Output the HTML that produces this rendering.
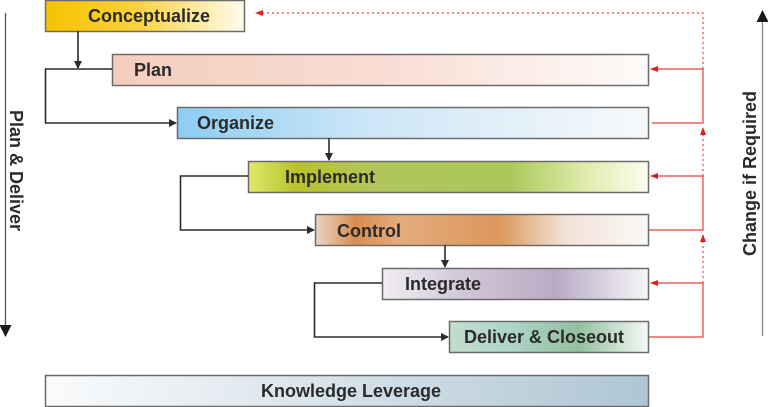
<!DOCTYPE html>
<html><head><meta charset="utf-8"><style>
html,body{margin:0;padding:0;background:#fff;width:768px;height:407px;overflow:hidden}
text{font-family:"Liberation Sans",Arial,sans-serif;font-weight:bold;fill:#2b2b2b}
</style></head><body>
<svg width="768" height="407" viewBox="0 0 768 407" xmlns="http://www.w3.org/2000/svg">
<defs>
<linearGradient id="g1" x1="0" x2="1"><stop offset="0" stop-color="#f5c200"/><stop offset="0.45" stop-color="#fcd23a"/><stop offset="1" stop-color="#fffbf0"/></linearGradient>
<linearGradient id="g2" x1="0" x2="1"><stop offset="0" stop-color="#f5cdbf"/><stop offset="0.5" stop-color="#f8ddd3"/><stop offset="1" stop-color="#fdfbfa"/></linearGradient>
<linearGradient id="g3" x1="0" x2="1"><stop offset="0" stop-color="#8dcdf4"/><stop offset="0.4" stop-color="#cde6f6"/><stop offset="1" stop-color="#f7f9fb"/></linearGradient>
<linearGradient id="g4" x1="0" x2="1"><stop offset="0" stop-color="#dfe96a"/><stop offset="0.12" stop-color="#b8c22a"/><stop offset="0.3" stop-color="#b2c55a"/><stop offset="0.65" stop-color="#a9c85a"/><stop offset="0.85" stop-color="#e2ecaf"/><stop offset="1" stop-color="#fbfdf0"/></linearGradient>
<linearGradient id="g5" x1="0" x2="1"><stop offset="0" stop-color="#ead4c4"/><stop offset="0.12" stop-color="#d98c50"/><stop offset="0.25" stop-color="#e4ac7c"/><stop offset="0.55" stop-color="#dc975c"/><stop offset="0.75" stop-color="#f1e2d8"/><stop offset="1" stop-color="#fbf9f7"/></linearGradient>
<linearGradient id="g6" x1="0" x2="1"><stop offset="0" stop-color="#f0ecf2"/><stop offset="0.3" stop-color="#d2c8d8"/><stop offset="0.65" stop-color="#b8aac4"/><stop offset="1" stop-color="#f7f6f8"/></linearGradient>
<linearGradient id="g7" x1="0" x2="1"><stop offset="0" stop-color="#c4dccf"/><stop offset="0.3" stop-color="#acd6c8"/><stop offset="0.65" stop-color="#94bf9f"/><stop offset="1" stop-color="#f6f9f7"/></linearGradient>
<linearGradient id="g8" x1="0" x2="1"><stop offset="0" stop-color="#fafbfc"/><stop offset="0.4" stop-color="#dde6ed"/><stop offset="1" stop-color="#aec6d4"/></linearGradient>
<marker id="ab" markerWidth="8" markerHeight="8" refX="7" refY="4" orient="auto" markerUnits="userSpaceOnUse"><path d="M0,0 L8,4 L0,8 z" fill="#2b2b2b"/></marker>
<marker id="ar" markerWidth="8" markerHeight="6" refX="7" refY="3" orient="auto" markerUnits="userSpaceOnUse"><path d="M0,0 L8,3 L0,6 z" fill="#e02020"/></marker>
<marker id="ak" markerWidth="12" markerHeight="12" refX="11" refY="6" orient="auto" markerUnits="userSpaceOnUse"><path d="M0,0 L12,6 L0,12 z" fill="#1a1a1a"/></marker>
</defs>
<g stroke="#6b6b6b" stroke-width="1.5">
<rect x="45.5" y="0.5" width="199" height="31" fill="url(#g1)"/>
<rect x="112.5" y="54.5" width="536" height="31" fill="url(#g2)"/>
<rect x="177.5" y="107.5" width="471" height="31" fill="url(#g3)"/>
<rect x="248.5" y="161.5" width="400" height="31" fill="url(#g4)"/>
<rect x="315.5" y="214.5" width="333" height="31" fill="url(#g5)"/>
<rect x="382.5" y="268.5" width="266" height="31" fill="url(#g6)"/>
<rect x="449.5" y="321.5" width="199" height="31" fill="url(#g7)"/>
<rect x="45.5" y="375.5" width="603" height="31" fill="url(#g8)"/>
</g>
<g font-size="18">
<text x="88" y="22">Conceptualize</text>
<text x="134" y="76">Plan</text>
<text x="197" y="129">Organize</text>
<text x="285" y="183">Implement</text>
<text x="337" y="237">Control</text>
<text x="405" y="290">Integrate</text>
<text x="464" y="343">Deliver &amp; Closeout</text>
<text x="261" y="397">Knowledge Leverage</text>
</g>
<g fill="none" stroke="#2b2b2b" stroke-width="1.6">
<path d="M78,31 V68" marker-end="url(#ab)"/>
<path d="M112,69 H45.5 V123 H176" marker-end="url(#ab)"/>
<path d="M329,138 V160" marker-end="url(#ab)"/>
<path d="M248,176 H180.5 V230 H314" marker-end="url(#ab)"/>
<path d="M445,245 V267" marker-end="url(#ab)"/>
<path d="M382,283 H314.5 V337 H448" marker-end="url(#ab)"/>
</g>
<g fill="none" stroke="#e84040" stroke-width="1.2">
<path d="M703,69 H651" marker-end="url(#ar)"/>
<path d="M652,123 H703 V69"/>
<path d="M703,176 H651" marker-end="url(#ar)"/>
<path d="M649,230 H703 V176"/>
<path d="M703,283 H651" marker-end="url(#ar)"/>
<path d="M649,337 H703 V283"/>
<path d="M703,69 V13 H256" stroke-dasharray="2,3" marker-end="url(#ar)"/>
<path d="M703,176 V128" stroke-dasharray="2,3" marker-end="url(#ar)"/>
<path d="M703,283 V235" stroke-dasharray="2,3" marker-end="url(#ar)"/>
</g>
<path d="M5.5,13 V336" stroke="#555" stroke-width="1.3" marker-end="url(#ak)"/>
<path d="M762.5,336 V11" stroke="#888" stroke-width="1.3" marker-end="url(#ak)"/>
<text font-size="18" transform="translate(10,110) rotate(90)">Plan &amp; Deliver</text>
<text font-size="18" transform="translate(756,256) rotate(-90)">Change if Required</text>
</svg>
</body></html>
